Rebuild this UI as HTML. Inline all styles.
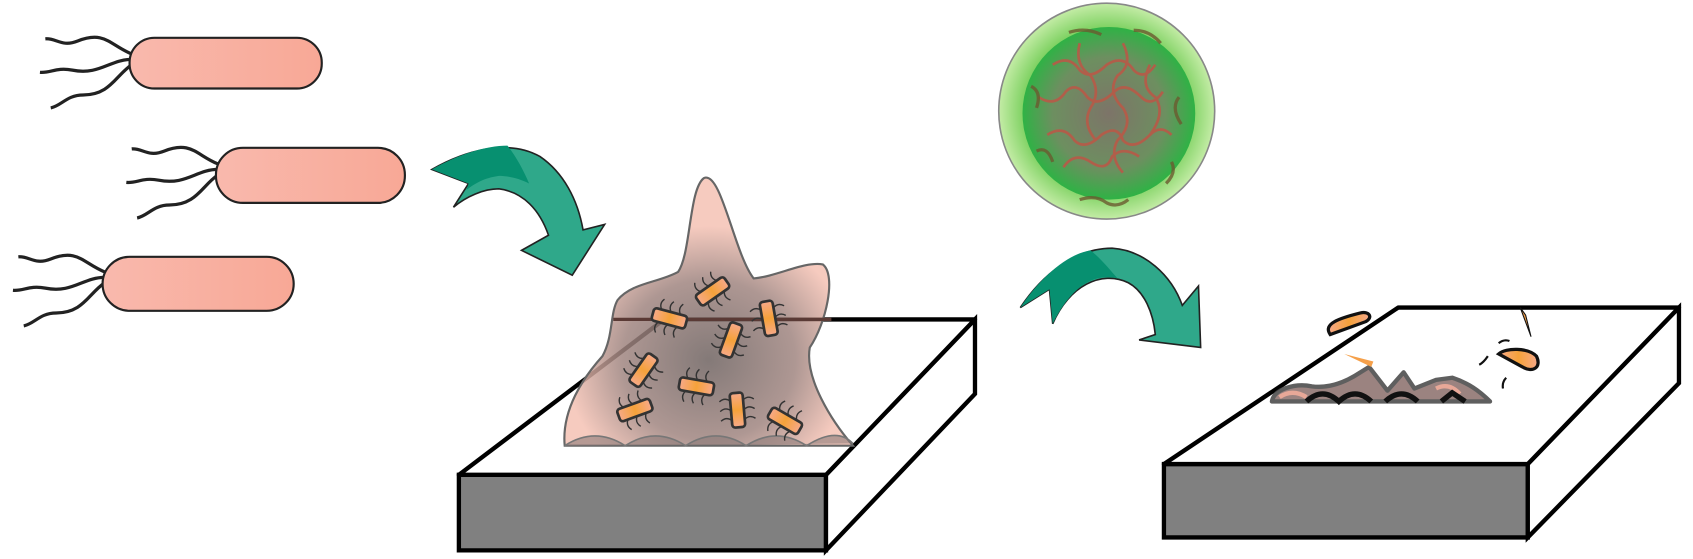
<!DOCTYPE html>
<html><head><meta charset="utf-8"><style>html,body{margin:0;padding:0;background:#fff}svg{display:block}</style></head>
<body>
<svg width="1693" height="559" viewBox="0 0 1568 518" preserveAspectRatio="none" xmlns="http://www.w3.org/2000/svg">
<defs>
<linearGradient id="bac" x1="0" x2="1"><stop offset="0" stop-color="#f9b9ad"/><stop offset="1" stop-color="#f8a896"/></linearGradient>
<radialGradient id="bio" cx="0.5" cy="0.68" r="0.5"><stop offset="0" stop-color="#6e6260"/><stop offset="0.6" stop-color="#a08580"/><stop offset="1" stop-color="#f5c2b4"/></radialGradient>
<radialGradient id="outer" cx="0.5" cy="0.5" r="0.5"><stop offset="0.75" stop-color="#78cf5c"/><stop offset="1" stop-color="#c4eca6"/></radialGradient>
<radialGradient id="inner" cx="0.5" cy="0.5" r="0.5"><stop offset="0" stop-color="#7d7468"/><stop offset="0.65" stop-color="#6d8f60"/><stop offset="1" stop-color="#2fb245"/></radialGradient>
<linearGradient id="rod" x1="0" x2="1"><stop offset="0" stop-color="#f7a98a"/><stop offset="0.5" stop-color="#f5a23a"/><stop offset="1" stop-color="#f7a98a"/></linearGradient>
<g id="mini">
<rect x="-16" y="-6" width="32" height="12" rx="3" fill="url(#rod)" stroke="#333" stroke-width="2.5"/>
<path d="M-9 -6 q-4 -5 0 -10 M0 -6 q-4 -5 0 -10 M9 -6 q-4 -5 0 -10 M-9 6 q-4 5 0 10 M0 6 q-4 5 0 10 M9 6 q-4 5 0 10" fill="none" stroke="#333" stroke-width="1.3"/>
</g>
<g id="flag" fill="none" stroke="#222" stroke-width="3">
<path d="M0 0 C-20 -8 -25 -22 -50 -12 C-65 -6 -70 -15 -80 -14"/>
<path d="M0 5 C-20 5 -30 20 -55 15 C-70 12 -75 18 -85 17"/>
<path d="M0 10 C-15 20 -20 38 -45 38 C-60 38 -65 48 -75 50"/>
</g>
</defs>

<!-- bacteria -->
<use href="#flag" x="122" y="50"/>
<rect x="120" y="35" width="178" height="47" rx="23" fill="url(#bac)" stroke="#222" stroke-width="2"/>
<use href="#flag" x="202" y="152"/>
<rect x="200" y="137" width="175" height="51" rx="25" fill="url(#bac)" stroke="#222" stroke-width="2"/>
<use href="#flag" x="97" y="252"/>
<rect x="95" y="238" width="177" height="50" rx="25" fill="url(#bac)" stroke="#222" stroke-width="2"/>

<!-- arrow 1 -->
<path d="M400 157 C430 140 470 128 500 145 C522 160 535 185 540 213 L560 208 L530 255 L483 232 L508 218 C500 195 485 178 462 175 C448 175 432 182 420 192 L434 170 Z" fill="#2fa88a" stroke="#222" stroke-width="1.5"/>
<path d="M400 157 C425 143 450 135 470 135 C478 145 485 158 490 170 C480 165 470 163 462 163 C448 165 440 170 432 176 L434 170 Z" fill="#079070"/>

<!-- middle slab -->
<polygon points="425,440 765,440 765,510 425,510" fill="#808080" stroke="#000" stroke-width="4"/>
<polygon points="765,440 903,296 903,365 765,510" fill="#fff" stroke="#000" stroke-width="4"/>
<polygon points="615,296 903,296 765,440 425,440" fill="#fff" stroke="#000" stroke-width="4" stroke-linejoin="round"/>
<!-- biofilm -->
<path d="M523 413 C520 380 540 350 558 330 C568 312 565 290 572 278 C585 262 610 262 628 252 C640 235 638 175 652 165 C668 158 680 235 698 258 C720 256 745 242 762 245 C775 255 765 300 750 322 C745 350 770 390 790 413 Z" fill="url(#bio)" fill-opacity="0.85" stroke="#666" stroke-width="2"/>
<path d="M523 413 q28 -18 56 0 q28 -18 56 0 q28 -18 56 0 q28 -18 56 0 q28 -18 43 -2" fill="#8a7a78" fill-opacity="0.6" stroke="#777" stroke-width="1.5"/>
<line x1="568" y1="296" x2="770" y2="296" stroke="#5a3a35" stroke-width="3"/>
<use href="#mini" transform="translate(660,270) rotate(-35)"/>
<use href="#mini" transform="translate(620,295) rotate(15)"/>
<use href="#mini" transform="translate(712,295) rotate(80)"/>
<use href="#mini" transform="translate(677,315) rotate(-70)"/>
<use href="#mini" transform="translate(596,343) rotate(-55)"/>
<use href="#mini" transform="translate(645,358) rotate(10)"/>
<use href="#mini" transform="translate(588,380) rotate(-20)"/>
<use href="#mini" transform="translate(683,380) rotate(85)"/>
<use href="#mini" transform="translate(727,390) rotate(30)"/>

<!-- circle -->
<circle cx="1025" cy="103" r="100" fill="url(#outer)" stroke="#888" stroke-width="1.5"/>
<circle cx="1027" cy="105" r="80" fill="url(#inner)"/>
<g fill="none" stroke="#b85a48" stroke-width="2.5" opacity="0.9">
<path d="M975 60 q15 -10 25 5 q10 10 25 -5 q15 -10 25 5 q10 10 20 -5"/>
<path d="M962 90 q15 10 25 -5 q10 -10 20 5 q10 10 25 -5 q10 -10 25 5 q10 10 20 -5"/>
<path d="M970 125 q15 -10 25 5 q10 10 25 -5 q15 -10 20 5 q10 10 25 -5 q10 -10 20 0"/>
<path d="M985 155 q10 -15 25 -5 q15 10 20 -5 q10 -10 25 0"/>
<path d="M1000 40 q-5 20 10 30 q10 15 0 30 q-8 15 5 30"/>
<path d="M1040 40 q10 20 -5 30 q-10 15 5 30 q10 15 -5 30 q-8 15 5 30"/>
<path d="M1065 60 q-10 20 5 30 q10 15 -5 35"/>
</g>
<g fill="none" stroke="#6b5a30" stroke-width="3" opacity="0.8">
<path d="M955 80 q10 5 5 20 M960 140 q10 -5 15 10 M1000 185 q15 -5 25 3 q10 5 20 -3 M1085 150 q5 10 -5 20 M1092 90 q-8 10 2 25 M990 30 q15 -5 30 2 M1050 28 q15 0 25 12"/>
</g>

<!-- arrow 2 -->
<path d="M945 285 C965 255 995 230 1030 230 C1060 232 1085 255 1095 283 L1110 265 L1112 322 L1055 315 L1070 310 C1068 290 1060 270 1045 262 C1020 250 990 265 975 300 L972 268 Z" fill="#2fa88a" stroke="#222" stroke-width="1.5"/>
<path d="M945 285 C965 255 990 235 1010 232 C1020 240 1028 250 1035 258 C1010 252 990 270 975 300 L972 268 Z" fill="#079070"/>

<!-- right slab -->
<polygon points="1078,430 1415,430 1415,498 1078,498" fill="#808080" stroke="#000" stroke-width="4"/>
<polygon points="1415,430 1555,285 1555,355 1415,498" fill="#fff" stroke="#000" stroke-width="4"/>
<polygon points="1295,285 1555,285 1415,430 1078,430" fill="#fff" stroke="#000" stroke-width="4" stroke-linejoin="round"/>
<!-- debris -->
<path d="M1178 372 C1180 360 1200 355 1215 358 C1230 360 1245 355 1260 345 L1268 340 L1285 362 L1300 345 L1310 360 L1330 352 L1345 350 C1360 355 1370 362 1380 372 Z" fill="#8a6e6a" stroke="#444" stroke-width="4" stroke-linejoin="round" opacity="0.85"/>
<path d="M1185 368 q12 -8 25 0 M1330 360 q12 -6 22 5" stroke="#e8a898" stroke-width="4" fill="none"/>
<path d="M1210 372 q15 -14 30 0 q15 -14 30 0 M1283 372 q15 -14 30 0 M1335 372 l10 -8 l12 8" stroke="#111" stroke-width="5" fill="none"/>
<path d="M1232 310 C1225 300 1240 295 1260 290 C1268 288 1272 294 1265 298 Z" fill="url(#rod)" stroke="#111" stroke-width="3"/>
<path d="M1388 328 C1395 322 1415 322 1423 330 C1428 340 1420 346 1410 340 Z" fill="url(#rod)" stroke="#111" stroke-width="3"/>
<path d="M1245 328 L1272 335 L1270 340 Z" fill="#f5a04a"/>
<path d="M1408 285 L1418 312 L1413 292 Z" fill="#f5a04a" stroke="#111" stroke-width="1"/>
<path d="M1378 330 q-4 6 -8 8 M1388 318 q5 -4 10 -2 M1395 350 q-4 4 -3 10" stroke="#111" stroke-width="2" fill="none"/>
</svg>
</body></html>
